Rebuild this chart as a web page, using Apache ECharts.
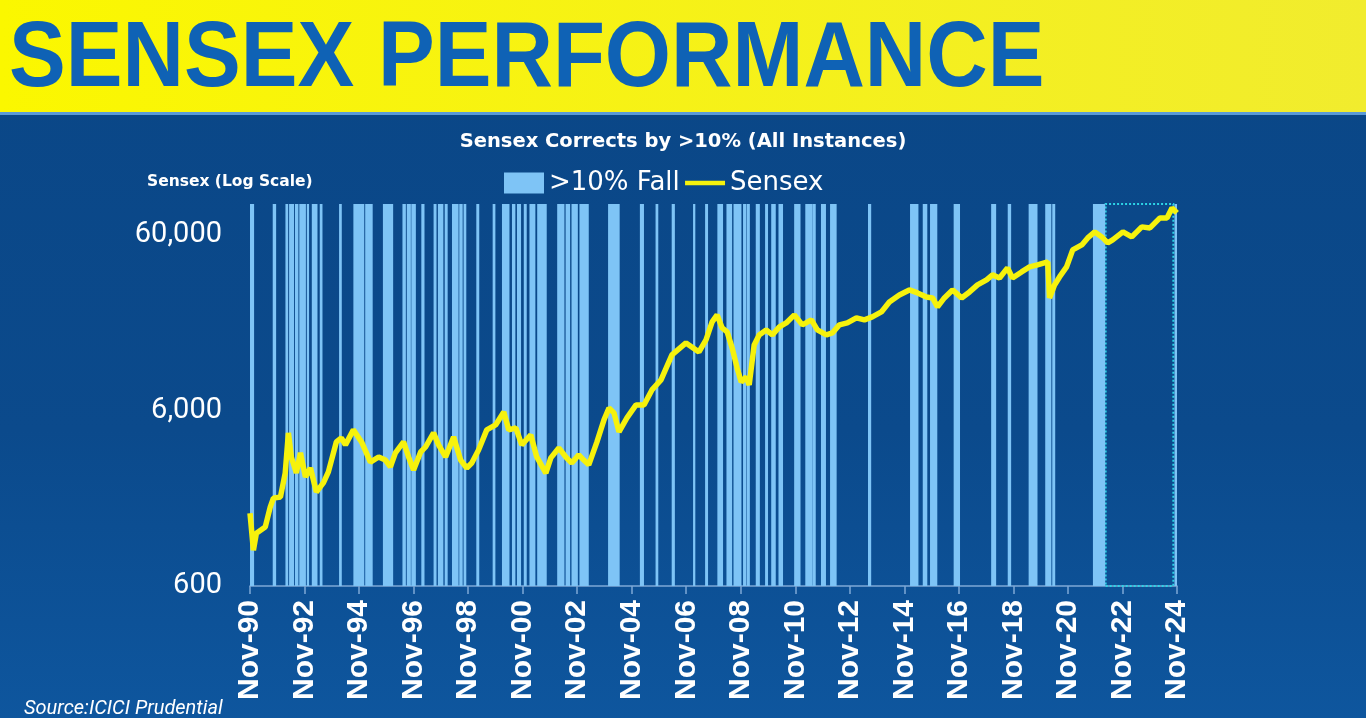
<!DOCTYPE html>
<html>
<head>
<meta charset="utf-8">
<title>Sensex Performance</title>
<script src="https://cdn.jsdelivr.net/npm/echarts@6/dist/echarts.min.js"></script>
<style>
  html, body { margin: 0; padding: 0; background: #0b4b8d; }
  #chart { width: 1366px; height: 718px; }
</style>
</head>
<body>
<div id="chart"></div>
<script>
// x values are months counted from Nov-1990 (0 = Nov-90, 408 = Nov-24)
const sensexMonths = [
  0, 1.5, 2.8, 6.7, 8.9, 10.3, 13.4, 15.5, 16.9, 18.2, 20.4, 22.2, 24.4, 26.6, 29.2, 32.3, 34.5,
  38.0, 40.2, 42.0, 45.5, 49.1, 53.0, 56.6, 59.6, 61.8, 64.0, 67.6, 69.8, 72.0, 75.1, 77.3,
  80.8, 83.0, 86.1, 89.6, 92.7, 95.4, 97.6, 100.6, 104.2, 108.1, 111.7, 113.9, 117.0, 119.6,
  123.6, 126.2, 130.2, 132.4, 135.9, 139.0, 141.6, 144.7, 146.9, 149.1, 152.7, 155.8, 158.0,
  160.2, 162.4, 165.9, 169.9, 173.4, 176.9, 180.9, 185.7, 191.9, 197.6, 200.7, 203.4, 205.6,
  207.8, 210.0, 212.2, 214.4, 216.2, 218.4, 219.7, 221.9, 224.1, 227.2, 229.9, 233.0, 236.0,
  239.6, 243.1, 247.1, 249.7, 253.7, 256.3, 259.4, 262.9, 266.9, 270.4, 273.9, 277.9, 281.4,
  285.8, 290.2, 293.8, 297.7, 300.4, 302.6, 305.6, 309.2, 313.2, 316.7, 320.2, 324.2, 326.8,
  329.9, 333.4, 335.6, 339.6, 343.1, 346.6, 351.1, 351.9, 354.1, 356.3, 359.4, 362.1, 366.1,
  368.7, 371.8, 374.9, 377.5, 379.7, 384.2, 388.1, 392.5, 396.1, 400.5, 403.6, 405.8, 408.0
];
const sensexValues = [
  1560, 960, 1200, 1300, 1690, 1900, 1930, 2640, 4470, 3260, 2640, 3440, 2510, 2820, 2060, 2320, 2680,
  3970, 4180, 3820, 4650, 3970, 3050, 3260, 3130, 2860, 3440, 3970, 3260, 2750, 3480, 3720,
  4470, 3820, 3260, 4240, 3130, 2820, 3010, 3570, 4650, 4960, 5880, 4650, 4770, 3820,
  4350, 3260, 2640, 3220, 3670, 3260, 3010, 3350, 3130, 2940, 3970, 5300, 6200,
  5810, 4530, 5440, 6450, 6450, 7850, 8950, 12430, 14550, 12930, 15130, 19160, 21010,
  17710, 16810, 13630, 10480, 8720, 9310, 8380, 14170, 16160, 17250, 16160, 17950, 18910,
  21010, 18430, 19670, 17250, 16160, 16580, 18430, 18910, 20200, 19670, 20470, 21850, 24910,
  27310, 29160, 28030, 26600, 26250, 23330, 26250, 29160, 26250, 28400, 31130, 33250, 35510,
  34130, 38920, 34130, 36920, 39430, 40480, 42110, 26250, 31130, 34580, 39430, 49280, 52620,
  57680, 62400, 58450, 54020, 56190, 62400, 58450, 66660, 65760, 75000, 75000, 85500, 80100
];

// periods of >10% fall (start / end month)
const fallStart = [
  0, 10.0, 15.6, 17.2, 19.8, 21.7, 25.0, 27.2, 30.7, 39.2, 45.5, 50.7, 58.5, 67.1, 69.0, 71.0,
  75.4, 80.8, 82.7, 85.7, 88.9, 92.1, 94.0, 99.6, 106.8, 110.9, 115.3, 117.5, 120.5, 123.0,
  126.4, 135.2, 138.9, 141.5, 145.0, 157.6, 171.6, 178.5, 185.6, 195.0, 200.3, 205.7, 209.7,
  212.8, 217.0, 218.7, 222.6, 226.7, 229.4, 232.6, 239.5, 244.4, 247.6, 251.3, 255.3, 272.0,
  290.5, 296.1, 299.3, 309.7, 326.2, 333.5, 342.7, 350.0, 353.1, 371.0, 406.9
];
const fallEnd = [
  1.8, 11.5, 16.8, 19.4, 21.3, 24.6, 26.0, 29.7, 31.9, 40.4, 50.3, 54.0, 63.0, 68.6, 70.8, 73.0,
  76.8, 82.1, 85.1, 87.0, 91.8, 93.6, 95.2, 100.9, 108.0, 114.2, 116.8, 119.3, 121.8, 125.6,
  130.6, 138.4, 140.9, 144.3, 149.1, 162.7, 173.4, 179.7, 187.0, 196.0, 201.6, 208.2, 212.2,
  216.3, 218.5, 220.0, 224.4, 228.0, 231.4, 234.6, 242.3, 247.6, 249.0, 253.5, 258.2, 273.4,
  294.2, 298.1, 302.5, 312.5, 328.4, 335.0, 346.6, 352.7, 354.4, 376.4, 408.0
];

const highlightBox = [376.6, 406.4];
const yTicks = [600, 6000, 60000];
const Y_MIN = 600;
const Y_MAX = 90000;

const chart = echarts.init(document.getElementById('chart'));

function monthLabel(m) {
  const year = 1990 + Math.round(m / 12);
  return 'Nov-' + String(year % 100).padStart(2, '0');
}

function renderFall(params, api) {
  const top = api.coord([api.value(0), Y_MAX]);
  const bottom = api.coord([api.value(1), Y_MIN]);
  return {
    type: 'rect',
    shape: {
      x: top[0],
      y: top[1],
      width: Math.max(bottom[0] - top[0], 1.5),
      height: bottom[1] - top[1]
    },
    style: api.style()
  };
}

chart.setOption({
  animation: false,
  backgroundColor: {
    type: 'linear', x: 0, y: 0, x2: 0, y2: 1,
    colorStops: [
      { offset: 0, color: '#0a4686' },
      { offset: 0.6, color: '#0b4a8c' },
      { offset: 1, color: '#0e569e' }
    ]
  },
  graphic: [
    {
      type: 'rect',
      shape: { x: 0, y: 0, width: 1366, height: 112 },
      style: {
        fill: {
          type: 'linear', x: 0, y: 0, x2: 1, y2: 0,
          colorStops: [
            { offset: 0, color: '#fbf700' },
            { offset: 1, color: '#f1ec2e' }
          ]
        }
      },
      silent: true
    },
    {
      type: 'rect',
      shape: { x: 0, y: 112, width: 1366, height: 3 },
      style: { fill: '#5b9ad6' },
      silent: true
    },
    {
      type: 'text',
      x: 9,
      y: 61,
      scaleX: 0.925,
      style: {
        text: 'SENSEX PERFORMANCE',
        fontFamily: 'Liberation Sans',
        fontWeight: 'bold',
        fontSize: 92,
        fill: '#0f62b5',
        verticalAlign: 'middle'
      },
      silent: true
    }
  ],
  title: [
    {
      text: 'Sensex Corrects by >10% (All Instances)',
      left: 'center',
      top: 127,
      textStyle: { color: '#ffffff', fontFamily: 'DejaVu Sans', fontWeight: 'bold', fontSize: 19.5 }
    },
    {
      text: 'Sensex (Log Scale)',
      left: 142,
      top: 169,
      textStyle: { color: '#ffffff', fontFamily: 'DejaVu Sans', fontWeight: 'bold', fontSize: 15.5 }
    },
    {
      text: 'Source:ICICI Prudential',
      left: 19,
      top: 694,
      textStyle: { color: '#ffffff', fontFamily: 'Roboto', fontStyle: 'italic', fontWeight: 'normal', fontSize: 20 }
    }
  ],
  legend: {
    left: 499,
    top: 165,
    itemWidth: 40,
    itemHeight: 21,
    itemGap: 3,
    textStyle: { color: '#ffffff', fontFamily: 'DejaVu Sans', fontSize: 26 },
    data: [
      { name: '>10% Fall', icon: 'rect' },
      {
        name: 'Sensex',
        itemStyle: { color: 'rgba(0,0,0,0)', borderColor: 'rgba(0,0,0,0)', borderWidth: 0 },
        lineStyle: { color: '#f6f20c', width: 4.5 }
      }
    ]
  },
  grid: { left: 250, right: 189, top: 204, bottom: 132 },
  xAxis: {
    type: 'value',
    min: 0,
    max: 408,
    interval: 24,
    splitLine: { show: false },
    axisLine: { lineStyle: { color: '#7ea8d6', width: 1.5 } },
    axisTick: { length: 8, lineStyle: { color: '#7ea8d6', width: 1.5 } },
    axisLabel: {
      rotate: 90,
      margin: 14,
      color: '#ffffff',
      fontFamily: 'Liberation Sans',
      fontWeight: 'bold',
      fontSize: 30,
      formatter: monthLabel
    }
  },
  yAxis: {
    type: 'log',
    logBase: 10,
    min: Y_MIN,
    max: Y_MAX,
    splitLine: { show: false },
    axisLine: { show: false },
    axisTick: { show: false },
    axisLabel: {
      customValues: yTicks,
      margin: 28,
      color: '#ffffff',
      fontFamily: 'Roboto',
      fontSize: 29,
      formatter: v => Number(v).toLocaleString('en-US')
    }
  },
  series: [
    {
      name: '>10% Fall',
      type: 'custom',
      renderItem: renderFall,
      itemStyle: { color: '#7ec4f6' },
      encode: { x: [0, 1], y: 2 },
      data: fallStart.map((s, i) => [s, fallEnd[i], Y_MAX]),
      z: 1,
      silent: true
    },
    {
      name: 'Sensex',
      type: 'line',
      symbol: 'none',
      lineStyle: { color: '#f6f20c', width: 5.5 },
      itemStyle: { color: '#f6f20c' },
      data: sensexMonths.map((m, i) => [m, sensexValues[i]]),
      z: 3,
      markArea: {
        silent: true,
        itemStyle: {
          color: 'rgba(0,0,0,0)',
          borderColor: '#2bd3e6',
          borderWidth: 2,
          borderType: 'dotted'
        },
        data: [[
          { xAxis: highlightBox[0], yAxis: Y_MIN },
          { xAxis: highlightBox[1], yAxis: Y_MAX }
        ]]
      }
    }
  ]
});
</script>
</body>
</html>
